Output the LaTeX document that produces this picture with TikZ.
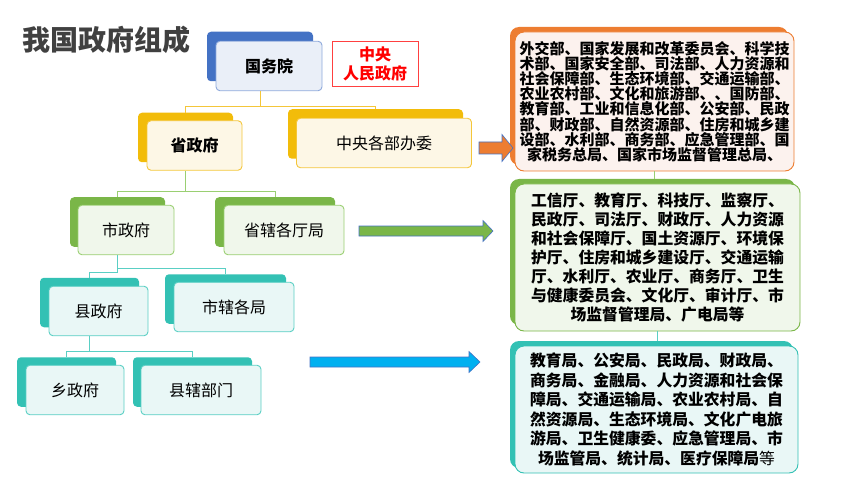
\documentclass[tikz,border=0pt]{standalone}
\usepackage{fontspec}
\setmainfont{Noto Sans CJK SC}
\usetikzlibrary{calc}
\definecolor{titleC}{HTML}{404040}
\definecolor{blueB}{HTML}{4472C4}
\definecolor{blueF}{HTML}{EAEFF8}
\definecolor{blueD}{HTML}{8EA9DB}
\definecolor{yelB}{HTML}{F2BC0A}
\definecolor{yelF}{HTML}{FDF7E6}
\definecolor{yelD}{HTML}{F4C63A}
\definecolor{greB}{HTML}{7AB648}
\definecolor{greF}{HTML}{F0F7EB}
\definecolor{greD}{HTML}{9ACF72}
\definecolor{teaB}{HTML}{33C1B4}
\definecolor{teaF}{HTML}{E9F7F6}
\definecolor{teaD}{HTML}{5ACFC4}
\definecolor{orgB}{HTML}{ED7D31}
\definecolor{orgF}{HTML}{FCF2EE}
\definecolor{arrowBlue}{HTML}{00B0F0}
\definecolor{arrowEdge}{HTML}{4472C4}
\definecolor{redC}{HTML}{FF0000}
\begin{document}
\begin{tikzpicture}[x=1pt,y=-1pt,
  bx/.style={rectangle, rounded corners=4pt, inner sep=0pt, minimum height=49.5pt},
  backbox/.style={bx, fill=#1},
  frontbox/.style 2 args={bx, fill=#1, draw=#2, line width=0.9pt, font=\fontsize{16}{19}\selectfont},
  panelback/.style={rectangle, rounded corners=9pt, inner sep=0pt, fill=#1},
  panelfront/.style 2 args={rectangle, rounded corners=9pt, inner sep=0pt, fill=#1, draw=#2, line width=0.9pt, align=center},
  link/.style={draw=#1, line width=1pt},
  blockarrow/.style={fill=#1, draw=arrowEdge, line width=0.6pt, line join=miter}
]
\useasboundingbox (0,0) rectangle (860,484);

% title
\node[font=\fontsize{28}{30}\selectfont\bfseries, text=titleC, inner sep=0pt] (title) at (107,40) {我国政府组成};

% ---- 国务院
\node[backbox=blueB, minimum width=106pt] (gwyB) at (260,56.5) {};
\node[frontbox={blueF}{blueD}, minimum width=106pt, font=\fontsize{16}{19}\selectfont\bfseries] (gwy) at (269,66) {国务院};
\node[draw=redC!75, line width=0.7pt, minimum width=86pt, minimum height=45pt, inner sep=0pt, align=center, text=redC, font=\fontsize{16}{19}\selectfont\bfseries] (zyrm) at (375,63.5) {中央\\人民政府};

% ---- level 2
\node[backbox=yelB, minimum width=95pt] (shengB) at (185.5,137.5) {};
\node[frontbox={yelF}{yelD}, minimum width=95pt, font=\fontsize{16}{19}\selectfont\bfseries] (sheng) at (194.5,145.5) {省政府};
\node[backbox=yelB, minimum width=175pt] (zyB) at (375.5,134) {};
\node[frontbox={yelF}{yelD}, minimum width=175pt] (zy) at (384,143) {中央各部办委};

% ---- level 3
\node[backbox=greB, minimum width=95pt] (shiB) at (117.5,222) {};
\node[frontbox={greF}{greD}, minimum width=96pt] (shi) at (126,230) {市政府};
\node[backbox=greB, minimum width=120pt] (stB) at (275,222) {};
\node[frontbox={greF}{greD}, minimum width=120pt] (st) at (284,230) {省辖各厅局};

% ---- level 4
\node[backbox=teaB, minimum width=99pt] (xianB) at (89.5,302.5) {};
\node[frontbox={teaF}{teaD}, minimum width=99pt] (xian) at (98.5,311) {县政府};
\node[backbox=teaB, minimum width=121pt] (sjB) at (225.5,299) {};
\node[frontbox={teaF}{teaD}, minimum width=120pt] (sj) at (234,307) {市辖各局};

% ---- level 5
\node[backbox=teaB, minimum width=99pt] (xiangB) at (66.5,382) {};
\node[frontbox={teaF}{teaD}, minimum width=98pt] (xiang) at (75,390) {乡政府};
\node[backbox=teaB, minimum width=119pt] (xjB) at (192.5,382) {};
\node[frontbox={teaF}{teaD}, minimum width=120pt] (xj) at (201,390) {县辖部门};

% ---- tree connectors
\draw[link=yelD] (gwyB.south |- gwy.south) -- ++(0,15) -| (shengB.north);
\draw[link=yelD] (gwyB.south |- gwy.south) ++(0,15) -| (zyB.north);
\draw[link=greD] (shengB.south |- sheng.south) -- ++(0,21) -| (shiB.north);
\draw[link=greD] (shengB.south |- sheng.south) ++(0,21) -| (stB.north);
\draw[link=teaD] (shiB.south |- shi.south) -- ++(0,17.7) -| (xianB.north);
\draw[link=teaD] (shiB.south |- shi.south) ++(0,13.3) -| (sjB.north);
\draw[link=teaD] (xianB.south |- xian.south) -- ++(0,15) -| (xiangB.north);
\draw[link=teaD] (xianB.south |- xian.south) ++(0,15) -| (xjB.north);

% ---- right panels
\node[panelback=orgB, minimum width=278pt, minimum height=138pt] (pOB) at (649,96) {};
\node[panelfront={orgF}{orgB}, minimum width=279pt, minimum height=139pt, font=\fontsize{15}{15.2}\selectfont\bfseries] (pO) at (654.5,101.5)
{外交部、国家发展和改革委员会、科学技\\术部、国家安全部、司法部、人力资源和\\社会保障部、生态环境部、交通运输部、\\农业农村部、文化和旅游部、、国防部、\\教育部、工业和信息化部、公安部、民政\\部、财政部、自然资源部、住房和城乡建\\设部、水利部、商务部、应急管理部、国\\家税务总局、国家市场监督管理总局、};

\node[panelback=greB, minimum width=285pt, minimum height=146pt] (pGB) at (652.5,252) {};
\node[panelfront={greF}{greB}, minimum width=285pt, minimum height=147pt, font=\fontsize{15.8}{19}\selectfont\bfseries] (pG) at (657.5,257.5)
{工信厅、教育厅、科技厅、监察厅、\\民政厅、司法厅、财政厅、人力资源\\和社会保障厅、国土资源厅、环境保\\护厅、住房和城乡建设厅、交通运输\\厅、水利厅、农业厅、商务厅、卫生\\与健康委员会、文化厅、审计厅、市\\场监督管理局、广电局等};

\node[panelback=teaB, minimum width=283pt, minimum height=127pt] (pTB) at (651.5,404.5) {};
\node[panelfront={teaF}{teaB}, minimum width=283pt, minimum height=127pt, font=\fontsize{15.8}{19.5}\selectfont\bfseries] (pT) at (656.5,409.5)
{教育局、公安局、民政局、财政局、\\商务局、金融局、人力资源和社会保\\障局、交通运输局、农业农村局、自\\然资源局、生态环境局、文化广电旅\\游局、卫生健康委、应急管理局、市\\场监管局、统计局、医疗保障局{\mdseries 等}};

\draw[link=greD] (pO.south) -- (pO.south |- pGB.north);
\draw[link=teaD] (pG.south) -- (pG.south |- pTB.north);

% ---- block arrows
\draw[blockarrow=orgB] (479,142) -- (502,142) -- (502,134.5) -- (513,148) -- (502,161.5) -- (502,154) -- (479,154) -- cycle;
\draw[blockarrow=greB] (359,226) -- (483,226) -- (483,220.5) -- (493,231) -- (483,241.5) -- (483,236) -- (359,236) -- cycle;
\draw[blockarrow=arrowBlue] (310,357) -- (469,357) -- (469,351.5) -- (480,362) -- (469,372.5) -- (469,367) -- (310,367) -- cycle;
\end{tikzpicture}
\end{document}
